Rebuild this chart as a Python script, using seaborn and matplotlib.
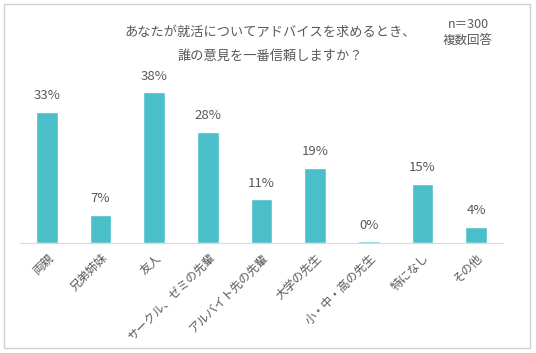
import matplotlib
matplotlib.use('Agg')
import matplotlib.pyplot as plt
import seaborn as sns
import pandas as pd
from matplotlib.patches import Rectangle

categories = ['両親', '兄弟姉妹', '友人', 'サークル、ゼミの先輩', 'アルバイト先の先輩',
              '大学の先生', '小・中・高の先生', '特になし', 'その他']
values = [33, 7, 38, 28, 11, 19, 0.4, 15, 4]
labels = ['33%', '7%', '38%', '28%', '11%', '19%', '0%', '15%', '4%']

sns.set_style('white')
plt.rcParams['font.family'] = ['Noto Sans CJK JP', 'DejaVu Sans']

gray = '#595959'
df = pd.DataFrame({'cat': categories, 'val': values})

fig = plt.figure(figsize=(5.36, 3.53), dpi=100)
ax = fig.add_axes([20 / 536, 1 - 243 / 353, 483 / 536, 0.505])
sns.barplot(data=df, x='cat', y='val', color='#4BBFC9', width=0.4, ax=ax, saturation=1)
ax.set_ylim(0, 45)
ax.set_xlim(-0.5, len(categories) - 0.5)
for i, (v, t) in enumerate(zip(values, labels)):
    ax.text(i, v + 2.5, t, ha='center', va='bottom', fontsize=9.5, color=gray)

ax.set_xlabel('')
ax.set_ylabel('')
ax.set_yticks([])
for s in ['top', 'right', 'left']:
    ax.spines[s].set_visible(False)
ax.spines['bottom'].set_color('#d9d9d9')
ax.set_xticks(range(len(categories)))
ax.set_xticklabels(categories, rotation=45, ha='right', rotation_mode='anchor',
                   fontsize=8.5, color=gray)
ax.tick_params(axis='x', length=0, pad=6)

fig.text(270 / 536, 1 - 32 / 353, 'あなたが就活についてアドバイスを求めるとき、', ha='center', va='center',
         fontsize=9.5, color=gray)
fig.text(270 / 536, 1 - 56 / 353, '誰の意見を一番信頼しますか？', ha='center', va='center',
         fontsize=9.5, color=gray)
fig.text(468 / 536, 1 - 24 / 353, 'n＝300', ha='center', va='center', fontsize=9, color=gray)
fig.text(468 / 536, 1 - 40 / 353, '複数回答', ha='center', va='center', fontsize=9, color=gray)

fig.patches.append(Rectangle((4 / 536, 5 / 353), 526 / 536, 344 / 353, transform=fig.transFigure,
                             fill=False, edgecolor='#d0d0d0', linewidth=1))

fig.savefig('out.png', dpi=100)
